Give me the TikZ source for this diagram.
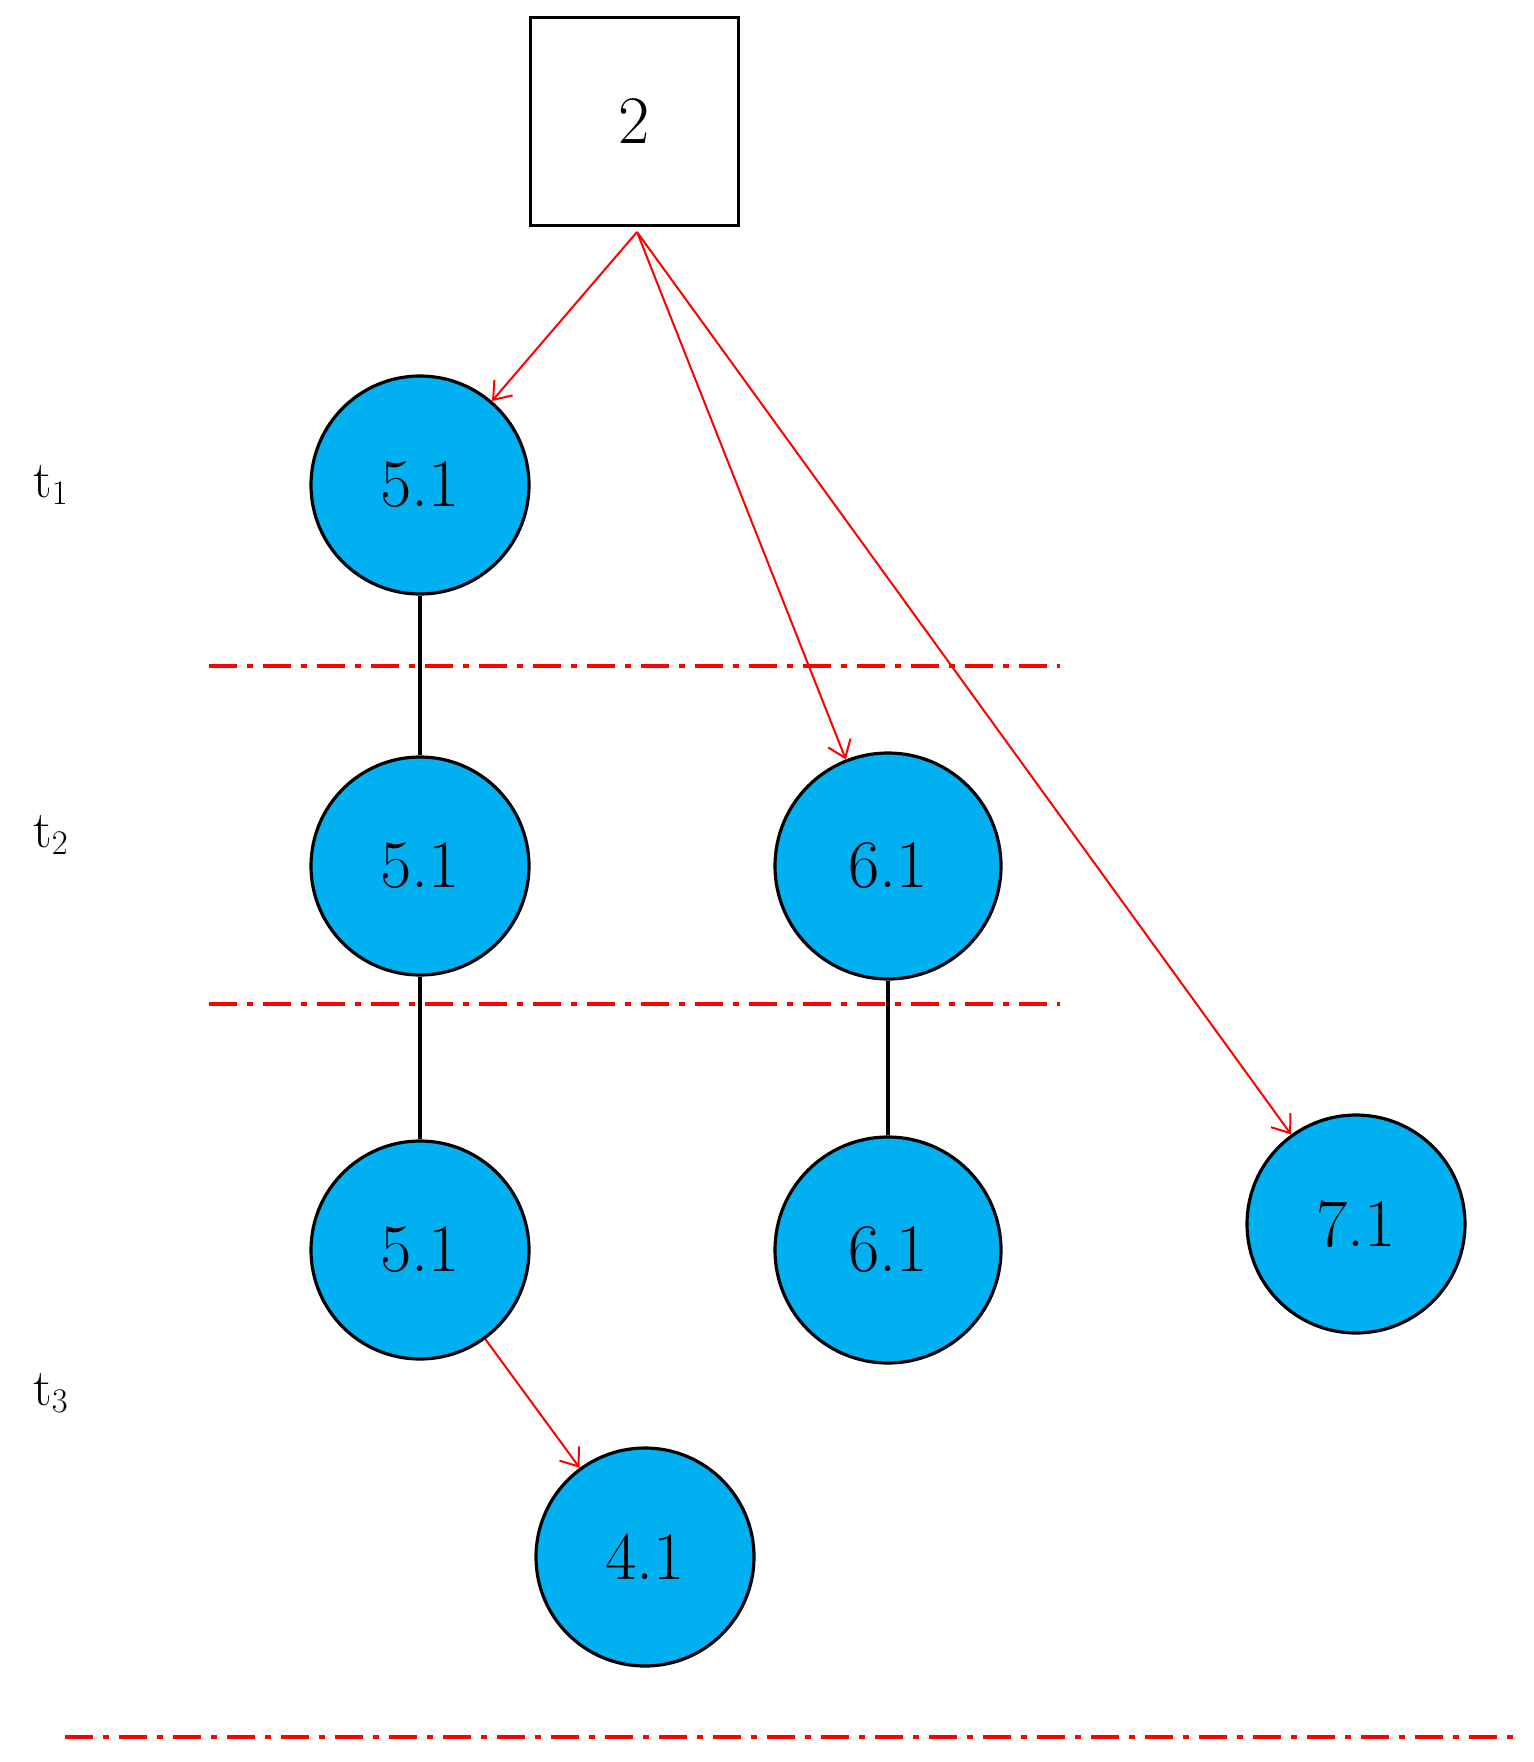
\documentclass[tikz,border=0pt]{standalone}
\usetikzlibrary{arrows.meta}
\begin{document}
\begin{tikzpicture}[x=0.5pt,y=-0.5pt,
  c/.style={circle,draw=black,line width=1.6pt,fill={rgb,255:red,0;green,176;blue,240},minimum size=109pt,inner sep=0pt,font=\fontsize{34}{38}\selectfont},
  r/.style={draw=red,line width=1pt,-{Straight Barb[length=8pt,width=12pt]}},
  dl/.style={draw=red,line width=1.6pt,dash pattern=on 14pt off 5pt on 3pt off 5pt},
  lb/.style={font=\fontsize{26}{30}\selectfont}]
\useasboundingbox (0,0) rectangle (1534,1762);
\node[draw,line width=1.5pt,minimum size=104pt,inner sep=0pt,font=\fontsize{34}{38}\selectfont] (b) at (634,121) {2};
\node[c] (a1) at (420,485) {5.1};
\node[c] (a2) at (420,866) {5.1};
\node[c,minimum size=113pt] (b2) at (888,866) {6.1};
\node[c] (a3) at (420,1250) {5.1};
\node[c,minimum size=113pt] (b3) at (888,1250) {6.1};
\node[c] (d) at (1356,1224) {7.1};
\node[c] (e) at (645,1557) {4.1};
\node[lb] (t1) at (51,485) {t$_1$};
\node[lb] (t2) at (51,835) {t$_2$};
\node[lb] (t3) at (51,1393) {t$_3$};
\coordinate (s) at (637,232);
\draw[r] (s) -- (a1);
\draw[r] (s) -- (b2);
\draw[r] (s) -- (d);
\draw[r] (a3) -- (e);
\draw[line width=1.6pt] (a1) -- (a2);
\draw[line width=1.6pt] (a2) -- (a3);
\draw[line width=1.6pt] (b2) -- (b3);
\coordinate (l1a) at (209,666); \coordinate (l1b) at (1060,666);
\coordinate (l2a) at (209,1004); \coordinate (l2b) at (1060,1004);
\coordinate (l3a) at (65,1737); \coordinate (l3b) at (1517,1737);
\draw[dl] (l1a) -- (l1b);
\draw[dl] (l2a) -- (l2b);
\draw[dl] (l3a) -- (l3b);
\end{tikzpicture}
\end{document}
